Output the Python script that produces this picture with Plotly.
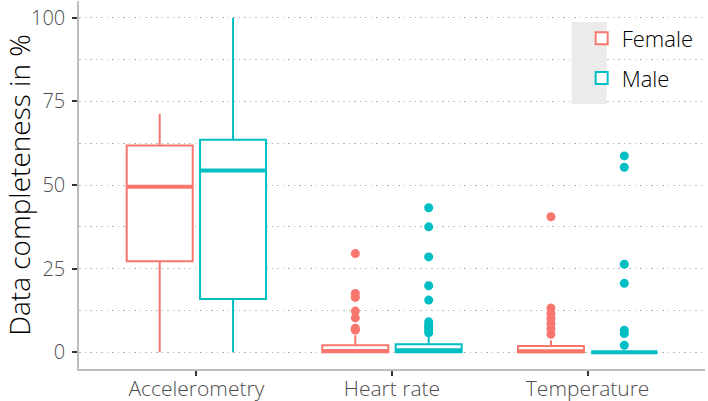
import plotly.graph_objects as go

categories = ["Accelerometry", "Heart rate", "Temperature"]
groups = ["Female", "Male"]
colors = {"Female": "#F8766D", "Male": "#00BFC4"}

# box summary statistics per group (one value per category)
lower = {"Female": [0.0, 0.0, 0.0], "Male": [0.0, 0.0, 0.0]}
q1 = {"Female": [27.2, 0.0, 0.0], "Male": [15.9, 0.0, 0.0]}
median = {"Female": [49.5, 0.4, 0.3], "Male": [54.3, 0.6, 0.0]}
q3 = {"Female": [61.8, 2.1, 1.9], "Male": [63.5, 2.4, 0.0]}
upper = {"Female": [71.3, 5.1, 3.6], "Male": [100.0, 4.6, 0.0]}

# outliers
out_hr_f = [6.6, 7.2, 10.3, 12.3, 16.4, 17.6, 29.5]
out_hr_m = [5.8, 6.6, 7.4, 8.1, 9.1, 15.6, 19.9, 28.5, 37.5, 43.2]
out_t_f = [5.4, 7.0, 8.6, 10.1, 11.6, 13.2, 40.5]
out_t_m = [2.1, 5.6, 6.6, 20.6, 26.3, 55.3, 58.7]
outliers = {
    "Female": {"Heart rate": out_hr_f, "Temperature": out_t_f},
    "Male": {"Heart rate": out_hr_m, "Temperature": out_t_m},
}

FONT = "Open Sans"
fig = go.Figure()
for g in groups:
    fig.add_trace(go.Box(
        name=g, x=categories, q1=q1[g], median=median[g], q3=q3[g],
        lowerfence=lower[g], upperfence=upper[g],
        offsetgroup=g, legendgroup=g,
        line=dict(color=colors[g], width=2), fillcolor="white",
        whiskerwidth=0, boxpoints=False, hoverinfo="skip",
    ))
    # thicker median
    fig.add_trace(go.Box(
        name=g, x=categories, q1=median[g], median=median[g], q3=median[g],
        lowerfence=median[g], upperfence=median[g],
        offsetgroup=g, legendgroup=g, showlegend=False,
        line=dict(color=colors[g], width=4), fillcolor="rgba(0,0,0,0)",
        whiskerwidth=0, boxpoints=False, hoverinfo="skip",
    ))
for g in groups:
    xs, ys = [], []
    for c, vals in outliers[g].items():
        xs += [c] * len(vals)
        ys += vals
    fig.add_trace(go.Scatter(
        x=xs, y=ys, mode="markers", offsetgroup=g, legendgroup=g,
        showlegend=False, marker=dict(color=colors[g], size=9),
        hoverinfo="skip",
    ))

GRID = "#b4b4b4"
fig.update_layout(
    width=708, height=401,
    margin=dict(l=79, r=3, t=1, b=32),
    paper_bgcolor="white", plot_bgcolor="white",
    boxmode="group", boxgap=0.25, boxgroupgap=0.1,
    scattermode="group", scattergap=0.25,
    font=dict(family=FONT, color="#4d4d4d", size=20, weight=300),
    legend=dict(x=0.803, y=0.955, xanchor="left", yanchor="top",
                bgcolor="rgba(0,0,0,0)", font=dict(size=22, color="black", weight=300),
                itemsizing="constant", tracegroupgap=8),
    showlegend=True,
    shapes=[dict(type="rect", xref="paper", yref="paper",
                 x0=0.787, x1=0.843, y0=0.72, y1=0.943,
                 fillcolor="#ebebeb", line=dict(width=0), layer="above")],
)
fig.update_xaxes(
    type="category", categoryorder="array", categoryarray=categories,
    range=[-0.6, 2.6],
    showline=True, linecolor="#bdbdbd", linewidth=1.5, automargin=False,
    ticks="outside", ticklen=5, tickcolor="#333333", tickwidth=1.5,
    showgrid=False, zeroline=False, tickfont=dict(size=21), ticklabelstandoff=-5,
)
fig.update_yaxes(
    range=[-5, 105], tickvals=[0, 25, 50, 75, 100], automargin=False,
    showline=True, linecolor="#bdbdbd", linewidth=1.5,
    ticks="outside", ticklen=5, tickcolor="#333333", tickwidth=1.5,
    showgrid=True, gridcolor=GRID, griddash="1.5px,4px", gridwidth=1.2,
    minor=dict(tickvals=[12.5, 37.5, 62.5, 87.5], showgrid=True,
               gridcolor=GRID, griddash="1.5px,4px", gridwidth=1.2),
    zeroline=False, tickfont=dict(size=20), ticklabelstandoff=3,
    title=dict(text="Data completeness in %", font=dict(size=28, color="black", weight=300), standoff=17),
)
fig.write_html("out.html", post_script="document.body.style.margin='0';",
               config={"displayModeBar": False})
